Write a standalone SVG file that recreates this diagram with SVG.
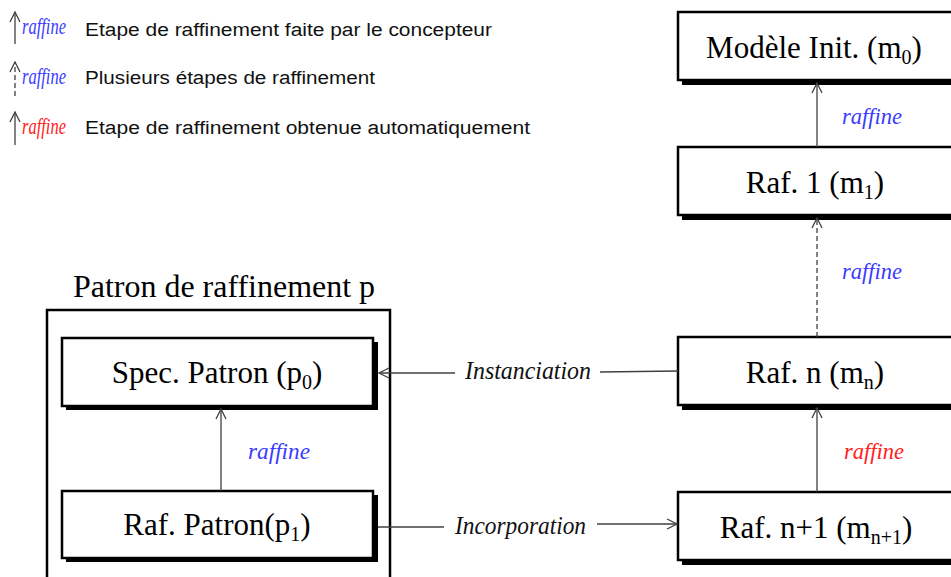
<svg xmlns="http://www.w3.org/2000/svg" width="951" height="577" viewBox="0 0 951 577">
<defs>
<marker id="ah" viewBox="0 0 12 12" refX="11" refY="6" markerWidth="12" markerHeight="12" markerUnits="userSpaceOnUse" orient="auto">
<path d="M1,1 L11,6 L1,11" fill="none" stroke="#404040" stroke-width="1.3"/>
</marker>
</defs>
<style>
.shadow{fill:#000}
.box{fill:#fff;stroke:#000;stroke-width:2.5}
.lbl{font-family:"Liberation Serif","Times New Roman",serif;font-size:31px;fill:#000}
.sub{font-size:20px}
.raf{font-family:"Liberation Serif",serif;font-style:italic;font-size:23px}
.blue{fill:#3a3aff}
.red{fill:#ff2020}
.conn{font-family:"Liberation Serif",serif;font-style:italic;font-size:25px;fill:#111}
.leg{font-family:"Liberation Sans",Arial,sans-serif;font-size:18px;fill:#111}
.line{stroke:#404040;stroke-width:1.3;fill:none}
.dash{stroke:#404040;stroke-width:1.3;fill:none;stroke-dasharray:5,3}
</style>

<g id="legend">
<line class="line" x1="15" y1="44" x2="15" y2="12" marker-end="url(#ah)"/>
<text class="raf blue" x="22" y="34" font-size="15" textLength="44" lengthAdjust="spacingAndGlyphs">raffine</text>
<text class="leg" x="85" y="36" textLength="407" lengthAdjust="spacingAndGlyphs">Etape de raffinement faite par  le concepteur</text>
<line class="dash" x1="15" y1="96" x2="15" y2="62" marker-end="url(#ah)"/>
<text class="raf blue" x="22" y="84" font-size="15" textLength="44" lengthAdjust="spacingAndGlyphs">raffine</text>
<text class="leg" x="85" y="84" textLength="290" lengthAdjust="spacingAndGlyphs">Plusieurs étapes de raffinement</text>
<line class="line" x1="15" y1="145" x2="15" y2="112" marker-end="url(#ah)"/>
<text class="raf red" x="22" y="134" font-size="15" textLength="44" lengthAdjust="spacingAndGlyphs">raffine</text>
<text class="leg" x="85" y="134" textLength="445" lengthAdjust="spacingAndGlyphs">Etape de raffinement obtenue automatiquement</text>
</g>

<g id="patron">
<text class="lbl" x="73" y="297" textLength="302" lengthAdjust="spacingAndGlyphs">Patron de raffinement p</text>
<rect x="47" y="310" width="343" height="280" fill="none" stroke="#000" stroke-width="2.5"/>
</g>

<g id="spec">
<rect class="shadow" x="66" y="342" width="312" height="68"/>
<rect class="box" x="62" y="338" width="311" height="68"/>
<text class="lbl" x="217" y="383" text-anchor="middle">Spec. Patron (p<tspan class="sub" dy="6">0</tspan><tspan dy="-6">)</tspan></text>
</g>

<g id="rafpatron">
<rect class="shadow" x="66" y="495" width="312" height="67"/>
<rect class="box" x="62" y="491" width="311" height="67"/>
<text class="lbl" x="217" y="535" text-anchor="middle">Raf. Patron(p<tspan class="sub" dy="6">1</tspan><tspan dy="-6">)</tspan></text>
</g>

<g id="m0">
<rect class="shadow" x="682" y="16" width="280" height="69"/>
<rect class="box" x="678" y="12" width="280" height="68"/>
<text class="lbl" x="814" y="58" text-anchor="middle">Modèle Init. (m<tspan class="sub" dy="6">0</tspan><tspan dy="-6">)</tspan></text>
</g>

<g id="m1">
<rect class="shadow" x="682" y="151" width="280" height="69"/>
<rect class="box" x="678" y="147" width="280" height="68"/>
<text class="lbl" x="815" y="193" text-anchor="middle">Raf. 1 (m<tspan class="sub" dy="6">1</tspan><tspan dy="-6">)</tspan></text>
</g>

<g id="mn">
<rect class="shadow" x="682" y="341" width="280" height="69"/>
<rect class="box" x="678" y="337" width="280" height="68"/>
<text class="lbl" x="815" y="383" text-anchor="middle">Raf. n (m<tspan class="sub" dy="6">n</tspan><tspan dy="-6">)</tspan></text>
</g>

<g id="mn1">
<rect class="shadow" x="682" y="496" width="280" height="69"/>
<rect class="box" x="678" y="492" width="280" height="68"/>
<text class="lbl" x="816" y="538" text-anchor="middle">Raf. n+1 (m<tspan class="sub" dy="6">n+1</tspan><tspan dy="-6">)</tspan></text>
</g>

<g id="connectors">
<line class="line" x1="817" y1="147" x2="817" y2="83" marker-end="url(#ah)"/>
<text class="raf blue" x="842" y="124" textLength="60" lengthAdjust="spacingAndGlyphs">raffine</text>
<line class="dash" x1="817" y1="337" x2="817" y2="218" marker-end="url(#ah)"/>
<text class="raf blue" x="842" y="279" textLength="60" lengthAdjust="spacingAndGlyphs">raffine</text>
<line class="line" x1="817" y1="492" x2="817" y2="408" marker-end="url(#ah)"/>
<text class="raf red" x="844" y="459" textLength="60" lengthAdjust="spacingAndGlyphs">raffine</text>
<line class="line" x1="221" y1="491" x2="221" y2="409" marker-end="url(#ah)"/>
<text class="raf blue" x="248" y="459" textLength="62" lengthAdjust="spacingAndGlyphs">raffine</text>
<polyline class="line" points="678,371 600,372"/>
<line class="line" x1="455" y1="373" x2="379" y2="373" marker-end="url(#ah)"/>
<text class="conn" x="465" y="379" textLength="126" lengthAdjust="spacingAndGlyphs">Instanciation</text>
<line class="line" x1="378" y1="527" x2="444" y2="527"/>
<line class="line" x1="597" y1="524" x2="677" y2="524" marker-end="url(#ah)"/>
<text class="conn" x="455" y="534" textLength="131" lengthAdjust="spacingAndGlyphs">Incorporation</text>
</g>
</svg>
